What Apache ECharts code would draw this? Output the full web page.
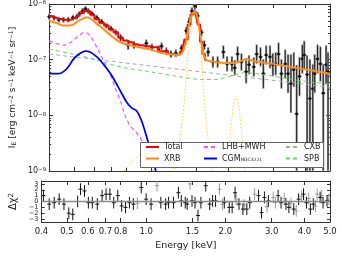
<!DOCTYPE html>
<html><head><meta charset="utf-8">
<script src="https://cdn.jsdelivr.net/npm/echarts@6/dist/echarts.min.js"></script>
<style>html,body{margin:0;padding:0;background:#fff}#c{width:341px;height:256px}</style>
</head><body><div id="c"></div>
<script>
// ---- tick labels ----
const xTickLabels = [0.4,0.5,0.6,0.7,0.8,1.0,1.5,2.0,3.0,4.0,5.0];
const yTickExps = [-9,-8,-7,-6];
const resTicks = [-3,-2,-1,0,1,2,3];

// ---- model curves [E keV, I_E] ----
const totalModel = [[0.400,6.1e-7],[0.418,5.7e-7],[0.436,5.4e-7],[0.455,5.2e-7],[0.475,5.2e-7],[0.495,5.4e-7],[0.508,5.7e-7],[0.522,6.1e-7],[0.540,6.9e-7],[0.554,7.5e-7],[0.568,7.5e-7],[0.588,6.4e-7],[0.614,5.4e-7],[0.641,4.6e-7],[0.669,4.1e-7],[0.698,3.5e-7],[0.728,3.1e-7],[0.760,2.5e-7],[0.793,2.2e-7],[0.828,2.05e-7],[0.864,1.89e-7],[0.902,1.82e-7],[0.958,1.74e-7],[1.026,1.67e-7],[1.118,1.42e-7],[1.217,1.26e-7],[1.271,1.24e-7],[1.326,1.4e-7],[1.372,2.3e-7],[1.408,4.3e-7],[1.444,6.5e-7],[1.482,7.3e-7],[1.508,6.5e-7],[1.534,4.3e-7],[1.574,2.1e-7],[1.601,1.28e-7],[1.643,1.0e-7]];
const xrbModel = [[0.400,5.0e-7],[0.436,4.4e-7],[0.455,4.1e-7],[0.475,4.1e-7],[0.495,4.26e-7],[0.522,5.0e-7],[0.540,5.4e-7],[0.554,5.7e-7],[0.568,5.7e-7],[0.588,5.2e-7],[0.614,4.4e-7],[0.641,3.8e-7],[0.669,3.2e-7],[0.698,2.7e-7],[0.760,2.05e-7],[0.828,1.82e-7],[0.902,1.67e-7],[0.983,1.55e-7],[1.071,1.37e-7],[1.167,1.26e-7],[1.271,1.21e-7],[1.326,1.37e-7],[1.372,2.2e-7],[1.408,4.26e-7],[1.444,6.4e-7],[1.482,7.2e-7],[1.508,6.4e-7],[1.534,4.26e-7],[1.574,2.05e-7],[1.601,1.26e-7],[1.643,9.9e-8],[1.789,9.1e-8],[1.949,8.75e-8],[2.123,8.75e-8],[2.254,9.5e-8],[2.352,1.03e-7],[2.520,9.5e-8],[2.990,8.4e-8],[3.85,6.9e-8],[5.0,5.6e-8]];
const lhbModel = [[0.400,2.2e-7],[0.425,1.97e-7],[0.455,1.82e-7],[0.487,2.05e-7],[0.517,2.6e-7],[0.549,3.1e-7],[0.578,2.7e-7],[0.614,1.67e-7],[0.641,1.12e-7],[0.669,7.4e-8],[0.698,5.0e-8],[0.728,2.9e-8],[0.760,1.8e-8],[0.793,9.75e-9],[0.828,6.5e-9],[0.864,5.3e-9],[0.902,4.16e-9],[0.942,2.88e-9],[0.983,1.77e-9],[1.026,9.6e-10]];
const cgmModel = [[0.400,5.6e-8],[0.436,5.6e-8],[0.455,6.1e-8],[0.475,7.4e-8],[0.495,9.9e-8],[0.517,1.21e-7],[0.540,1.37e-7],[0.554,1.42e-7],[0.578,1.37e-7],[0.614,1.12e-7],[0.641,9.1e-8],[0.698,5.4e-8],[0.760,2.7e-8],[0.807,1.66e-8],[0.842,1.35e-8],[0.879,1.2e-8],[0.918,8.0e-9],[0.958,4.3e-9],[1.000,2.17e-9],[1.044,1.0e-9]];
const cxbModel = [[0.4,1.26e-7],[1.0,7.7e-8],[2.0,5.3e-8],[5.0,3.2e-8]];
const spbModel = [[0.4,1.55e-7],[0.495,1.26e-7],[0.614,9.9e-8],[0.760,7.4e-8],[0.983,6.1e-8],[1.271,5.0e-8],[1.574,4.4e-8],[1.789,4.4e-8],[2.034,5.0e-8],[2.312,5.8e-8],[2.745,5.4e-8],[3.55,4.4e-8],[5.0,3.6e-8]];
const alLine = [[1.217,8e-10],[1.292,3.5e-9],[1.349,1.8e-8],[1.384,9.1e-8],[1.420,3.8e-7],[1.457,6.4e-7],[1.482,6.7e-7],[1.508,5.9e-7],[1.547,2.5e-7],[1.587,6.1e-8],[1.628,1.2e-8],[1.685,2.4e-9],[1.729,8.6e-10]];
const broadInst = [[0.77,9e-10],[0.82,1.3e-9],[0.90,1.9e-9],[1.0,2.4e-9],[1.1,2.7e-9],[1.2,2.8e-9]];
const auLine = [[1.95,8e-10],[2.03,4e-9],[2.10,1.5e-8],[2.15,2.2e-8],[2.20,1.5e-8],[2.27,4e-9],[2.35,8e-10]];

// ---- spectrum [E, I_E, low, high] ----
const spectrum = [[0.400,5.9e-7,5.2e-7,6.7e-7],[0.418,5.7e-7,5.0e-7,6.4e-7],[0.436,5.2e-7,4.6e-7,5.9e-7],[0.455,5.2e-7,4.6e-7,5.9e-7],[0.475,5.2e-7,4.6e-7,5.9e-7],[0.495,5.7e-7,5.0e-7,6.4e-7],[0.513,5.9e-7,5.2e-7,6.7e-7],[0.526,6.7e-7,5.9e-7,7.5e-7],[0.540,7.5e-7,6.6e-7,8.5e-7],[0.554,8.2e-7,7.2e-7,9.2e-7],[0.568,7.5e-7,6.6e-7,8.5e-7],[0.588,6.7e-7,5.9e-7,7.5e-7],[0.614,5.7e-7,5.0e-7,6.4e-7],[0.641,4.8e-7,4.3e-7,5.45e-7],[0.669,4.1e-7,3.6e-7,4.6e-7],[0.698,3.6e-7,3.2e-7,4.1e-7],[0.728,3.1e-7,2.7e-7,3.5e-7],[0.760,2.5e-7,2.1e-7,2.9e-7],[0.814,1.82e-7,1.49e-7,2.23e-7],[0.857,1.82e-7,1.55e-7,2.14e-7],[0.958,1.97e-7,1.67e-7,2.32e-7],[1.008,1.67e-7,1.42e-7,1.96e-7],[1.071,1.55e-7,1.32e-7,1.82e-7],[1.099,1.74e-7,1.48e-7,2.05e-7],[1.147,1.42e-7,1.21e-7,1.67e-7],[1.196,1.26e-7,1.07e-7,1.48e-7],[1.249,1.31e-7,1.11e-7,1.54e-7],[1.315,1.61e-7,1.37e-7,1.89e-7],[1.372,3.3e-7,2.8e-7,3.9e-7],[1.408,4.8e-7,4.1e-7,5.7e-7],[1.444,7.5e-7,6.4e-7,8.8e-7],[1.482,9.2e-7,7.8e-7,1.08e-6],[1.521,6.1e-7,5.2e-7,7.2e-7],[1.574,3.1e-7,2.6e-7,3.6e-7],[1.615,1.82e-7,1.49e-7,2.23e-7],[1.671,1.37e-7,1.12e-7,1.68e-7],[1.744,9.1e-8,7.1e-8,1.16e-7],[1.820,9.1e-8,7.1e-8,1.16e-7],[1.916,1.37e-7,1.03e-7,1.82e-7],[1.982,8.4e-8,6.1e-8,1.16e-7],[2.069,8.4e-8,6.1e-8,1.16e-7],[2.123,7.1e-8,5.2e-8,9.9e-8],[2.178,1.26e-7,9.1e-8,1.74e-7],[2.254,9.1e-8,6.3e-8,1.31e-7],[2.352,6.1e-8,3.7e-8,9.9e-8],[2.414,8.1e-8,5.4e-8,1.21e-7],[2.520,7.4e-8,4.9e-8,1.11e-7],[2.585,1.26e-7,8.4e-8,1.89e-7],[2.676,1.12e-7,7.5e-8,1.68e-7],[2.745,5.6e-8,3.0e-8,1.03e-7],[2.816,1.21e-7,8.1e-8,1.82e-7],[2.915,1.12e-7,6.9e-8,1.82e-7],[2.990,8.1e-8,5.0e-8,1.32e-7],[3.068,8.4e-8,5.2e-8,1.37e-7],[3.148,1.26e-7,7.7e-8,2.05e-7],[3.230,5.6e-8,3.0e-8,1.03e-7],[3.342,8.4e-8,4.6e-8,1.54e-7],[3.429,5.6e-8,2.5e-8,1.26e-7],[3.518,3.7e-8,1.1e-8,1.26e-7],[3.610,6.6e-8,3.2e-8,1.37e-7],[3.704,1.06e-8,5e-10,8.1e-8],[3.800,5.0e-8,2.2e-8,1.12e-7],[3.898,1.03e-7,5.6e-8,1.89e-7],[3.966,1.21e-7,6.6e-8,2.2e-7],[4.069,5.4e-8,5e-10,1.21e-7],[4.174,2.0e-8,5e-10,1.03e-7],[4.283,3.0e-8,5e-10,8.4e-8],[4.357,5.6e-8,2.5e-8,1.26e-7],[4.470,1.03e-7,5.6e-8,1.89e-7],[4.586,8.4e-8,4.0e-8,1.74e-7],[4.705,2.5e-8,5e-10,8.4e-8],[4.828,8.1e-8,3.6e-8,1.82e-7],[4.912,6.1e-8,5e-10,1.37e-7]];

// ---- residuals [E, delta chi] ----
const resBlack = [[0.407,1.0],[0.428,-0.45],[0.447,-0.2],[0.467,0.4],[0.487,-0.45],[0.508,-2.0],[0.526,-2.2],[0.549,0.0],[0.563,2.1],[0.583,1.8],[0.603,-0.2],[0.624,-0.2],[0.652,-0.45],[0.680,1.0],[0.704,1.25],[0.728,1.25],[0.753,-0.2],[0.780,1.0],[0.807,-0.75],[0.835,-1.0],[0.864,-0.2],[0.894,-0.45],[0.958,2.4],[1.000,0.4],[1.044,-0.45],[1.137,-0.2],[1.186,-0.45],[1.217,-0.2],[1.271,-0.2],[1.326,1.5],[1.360,0.1],[1.408,-0.2],[1.432,-0.45],[1.494,0.1],[1.534,-0.2],[1.574,-2.4],[1.615,-0.2],[1.685,2.7],[1.744,-0.45],[1.789,0.1],[1.836,0.1],[1.982,-0.2],[2.069,-1.0],[2.123,-1.0],[2.178,1.5],[2.254,-0.45],[2.333,-1.3],[2.414,-1.3],[2.477,-0.2],[2.676,1.0],[2.745,-1.9],[2.816,0.7],[2.915,0.1],[3.175,1.0],[3.257,-0.2],[3.400,-0.45],[3.488,-1.0],[3.641,-1.3],[3.800,0.4],[3.966,1.25],[4.069,-0.2],[4.211,-1.3],[4.320,-0.45],[4.586,0.7],[4.705,-0.2],[4.872,0.1]];
const resGray = [[0.926,-0.3],[1.099,2.7],[1.469,3.0],[1.900,2.1],[1.95,-0.5],[2.20,0.3],[2.36,-0.6],[2.585,1.25],[2.88,-0.9],[3.041,0.7],[3.10,-0.2],[3.35,0.5],[3.55,-0.3],[3.72,-1.6],[3.90,0.9],[4.15,0.5],[4.40,-0.8],[4.470,1.25],[4.65,1.0],[4.95,0.4]];

// ---- build ----
const L = Math.log10;
const X0 = L(0.4), X1 = L(5.0);
const xT = xTickLabels.map(L);
const minorY = [];
for (let e = -9; e < -6; e++) for (let k = 2; k <= 9; k++) minorY.push(e + L(k));
const toLog = a => a.map(p => [L(p[0]), L(p[1])]);
const FONT = 'DejaVu Sans';
const AX = '#333';

function xAx(grid, pos, labels) {
  const o = {gridIndex:grid, type:'value', min:X0, max:X1, position:pos,
    axisLine:{show:true, onZero:false, lineStyle:{color:AX, width:1}},
    axisTick:{show:true, inside:true, length:4, customValues:xT, lineStyle:{color:AX}},
    axisLabel:{show:false}, splitLine:{show:false}};
  if (labels) {
    o.axisLabel = {show:true, customValues:xT, interval:0, formatter:v => Math.pow(10, v).toFixed(1),
      fontSize:8.5, fontFamily:FONT, color:'#222', margin:5};
    o.name = 'Energy [keV]'; o.nameLocation = 'middle'; o.nameGap = 19;
    o.nameTextStyle = {fontSize:9.5, fontFamily:FONT, color:'#222'};
  }
  return o;
}
function yAx(grid, pos, min, max, ticks, len, label, line) {
  return {gridIndex:grid, type:'value', min:min, max:max, position:pos,
    axisLine:{show:line, onZero:false, lineStyle:{color:AX, width:1}},
    axisTick:{show:true, inside:true, length:len, customValues:ticks, lineStyle:{color:AX}},
    axisLabel:label || {show:false}, splitLine:{show:false}};
}
const yTop = yAx(0, 'left', -9, -6, yTickExps, 4, {show:true, customValues:yTickExps, interval:0,
  formatter: v => '{b|10}{s|\u2212' + Math.abs(v) + '}', margin:3,
  rich:{b:{fontSize:8, fontFamily:FONT, color:'#222'}, s:{fontSize:5.5, fontFamily:FONT, color:'#222', verticalAlign:'top'}}}, true);
yTop.name = '{n|I}{sub|E}{n| [erg cm}{sup|\u22122}{n| s}{sup|\u22121}{n| keV}{sup|\u22121}{n| sr}{sup|\u22121}{n|]}';
yTop.nameLocation = 'middle'; yTop.nameGap = 23; yTop.nameRotate = 90;
yTop.nameTextStyle = {fontSize:9, fontFamily:FONT, color:'#222', rich:{
  n:{fontSize:9, fontFamily:FONT, color:'#222'},
  sub:{fontSize:6, fontFamily:FONT, color:'#222', verticalAlign:'bottom'},
  sup:{fontSize:6, fontFamily:FONT, color:'#222', verticalAlign:'top'}}};
const resFmt = v => (v < 0 ? '\u2212' + Math.abs(v) : '' + v);
const resLabA = resTicks.filter(v => Math.abs(v) % 2 === 1);
const resLabB = resTicks.filter(v => Math.abs(v) % 2 === 0);
function resLab(vals) {
  return {show:true, customValues:vals, interval:0, hideOverlap:false, formatter:resFmt,
    fontSize:6.5, fontFamily:FONT, color:'#222', margin:3};
}
const yRes = yAx(1, 'left', -3.5, 3.5, resTicks, 3, resLab(resLabA), true);
yRes.name = '{n|\u0394\u03c7}{sup|2}'; yRes.nameLocation = 'middle'; yRes.nameGap = 17; yRes.nameRotate = 90;
yRes.nameTextStyle = {fontSize:10, fontFamily:FONT, color:'#222', rich:{
  n:{fontSize:10, fontFamily:FONT, color:'#222'}, sup:{fontSize:7, fontFamily:FONT, color:'#222', verticalAlign:'top'}}};
const yRes2 = yAx(1, 'left', -3.5, 3.5, resTicks, 3, resLab(resLabB), false);

function lineS(name, data, color, width, type, extra) {
  return Object.assign({name:name, type:'line', xAxisIndex:0, yAxisIndex:0, data:toLog(data),
    showSymbol:false, symbol:'none', smooth:0.3, clip:true,
    lineStyle:{color:color, width:width, type:type}, itemStyle:{color:color}, silent:true}, extra || {});
}
function specItem(params, api) {
  const cs = params.coordSys, top = cs.y, bot = cs.y + cs.height;
  const x = api.value(0);
  const c = api.coord([x, api.value(1)]);
  let yl = Math.min(api.coord([x, api.value(2)])[1], bot);
  let yh = Math.max(api.coord([x, api.value(3)])[1], top);
  const kids = [
    {type:'line', shape:{x1:c[0], y1:yh, x2:c[0], y2:yl}, style:{stroke:'#9a9a9a', lineWidth:2.2}},
    {type:'line', shape:{x1:c[0], y1:yh + 1, x2:c[0], y2:yl - 1}, style:{stroke:'#111', lineWidth:0.9}},
    {type:'line', shape:{x1:c[0] - 2, y1:c[1], x2:c[0] + 2, y2:c[1]}, style:{stroke:'#111', lineWidth:1}}
  ];
  if (c[1] > top && c[1] < bot) kids.push({type:'rect', shape:{x:c[0] - 1.2, y:c[1] - 1.2, width:2.4, height:2.4}, style:{fill:'#111'}});
  return {type:'group', children:kids};
}
function resItem(color) {
  return function(params, api) {
    const cs = params.coordSys, top = cs.y, bot = cs.y + cs.height;
    const x = api.value(0), v = api.value(1);
    const c = api.coord([x, v]);
    const yt = Math.max(api.coord([x, v + 1])[1], top), yb = Math.min(api.coord([x, v - 1])[1], bot);
    return {type:'group', children:[
      {type:'line', shape:{x1:c[0], y1:yt, x2:c[0], y2:yb}, style:{stroke:color, lineWidth:1}},
      {type:'line', shape:{x1:c[0] - 2, y1:c[1], x2:c[0] + 2, y2:c[1]}, style:{stroke:color, lineWidth:1}}]};
  };
}
const legendText = {fontSize:8, fontFamily:FONT, color:'#222', rich:{
  a:{fontSize:8, fontFamily:FONT, color:'#222'}, s:{fontSize:4.5, fontFamily:FONT, color:'#222', verticalAlign:'bottom'}}};
function leg(names, left) {
  return {data:names, orient:'vertical', left:left, top:143, itemWidth:13, itemHeight:8, itemGap:3.5,
    padding:0, z:6, selectedMode:false, textStyle:legendText, itemStyle:{opacity:0},
    formatter: n => n === 'CGM' ? '{a|CGM}{s|NGC3221}' : n};
}
const Y = '#f3d23c';
const option = {
  animation:false,
  grid:[{left:35, top:1, width:295, height:170}, {left:35, top:181, width:295, height:41}],
  xAxis:[xAx(0,'bottom',false), xAx(0,'top',false), xAx(1,'bottom',true), xAx(1,'top',false)],
  yAxis:[yTop, yAx(0,'left',-9,-6,minorY,2,null,false), yAx(0,'right',-9,-6,yTickExps,4,null,true), yAx(0,'right',-9,-6,minorY,2,null,false),
         yRes, yAx(1,'right',-3.5,3.5,resTicks,3,null,true), yRes2],
  legend:[leg(['Total','XRB'],145), leg(['LHB+MWH','CGM'],203), leg(['CXB','SPB'],285)],
  graphic:[{type:'rect', z:5, shape:{x:140.5, y:142.5, width:183, height:25}, style:{fill:'#fff', stroke:'#666', lineWidth:1}}],
  series:[
    lineS('CXB', cxbModel, '#a8a8a8', 1, [4,3], {smooth:false}),
    lineS('SPB', spbModel, '#5fd85f', 1, [4,3]),
    lineS('inst1', alLine, Y, 1, [1.5,2]),
    lineS('inst2', broadInst, Y, 1, [1.5,2]),
    lineS('inst3', auLine, Y, 1, [1.5,2]),
    lineS('LHB+MWH', lhbModel, '#ff4cff', 1.2, [4,3]),
    lineS('CGM', cgmModel, '#0000ff', 1.8, 'solid'),
    lineS('Total', totalModel, '#ff0000', 2, 'solid', {smooth:false, step:'middle'}),
    lineS('XRB', xrbModel, '#ff8c1a', 2, 'solid'),
    {type:'custom', xAxisIndex:0, yAxisIndex:0, renderItem:specItem, silent:true, z:3,
     data:spectrum.map(p => [L(p[0]), L(p[1]), L(p[2]), L(p[3])])},
    {type:'line', xAxisIndex:2, yAxisIndex:4, data:[[X0,0],[X1,0]], showSymbol:false, symbol:'none',
     lineStyle:{color:'#8a8a8a', width:1.6}, silent:true},
    {type:'custom', xAxisIndex:2, yAxisIndex:4, renderItem:resItem('#999'), silent:true,
     data:resGray.map(p => [L(p[0]), p[1]])},
    {type:'custom', xAxisIndex:2, yAxisIndex:4, renderItem:resItem('#111'), silent:true,
     data:resBlack.map(p => [L(p[0]), p[1]])}
  ]
};
echarts.init(document.getElementById('c')).setOption(option);
</script></body></html>
